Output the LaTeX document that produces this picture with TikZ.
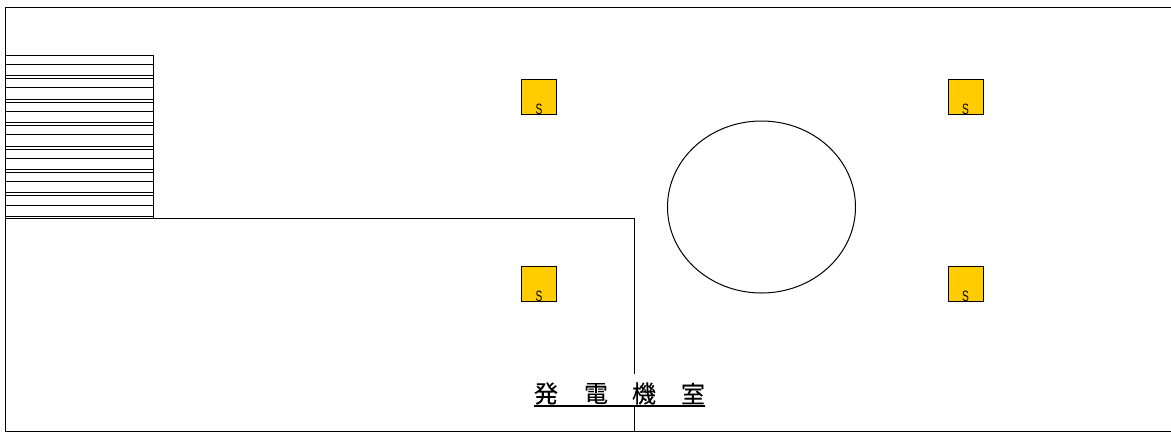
\documentclass[tikz,border=0pt]{standalone}
\usepackage{fontspec}
\newfontfamily\jpfont[FakeBold=0.2]{Noto Sans CJK JP}
\newfontfamily\tagfont[FakeStretch=0.68]{Liberation Sans}
\definecolor{sensoryellow}{RGB}{255,204,0}
\tikzset{
  sensorbox/.style={draw=black,fill=sensoryellow,minimum size=35pt,inner sep=0pt,line width=1pt},
  sensortag/.style={inner sep=0pt,font=\tagfont\fontsize{15pt}{15pt}\selectfont},
  titlechar/.style={inner sep=0pt,font=\jpfont\fontsize{24pt}{24pt}\selectfont},
  wallline/.style={draw=black,line width=1pt}
}
\begin{document}
\begin{tikzpicture}[x=1pt,y=-1pt]
        \useasboundingbox (0,0) rectangle (1171,432);
        % outer room
        \coordinate (TL) at (5.5,7.5);
        \coordinate (TR) at (1171,7.5);
        \coordinate (BL) at (5.5,431);
        \coordinate (BR) at (1171,431);
        \draw[wallline] (TR) -- (TL) -- (BL) -- (BR);
        % stairs
        \coordinate (S) at (5.5,55.5);
        \coordinate (SE) at (153,55.5);
        \coordinate (W) at (5.5,218.8);
        \coordinate (WC) at (153,218.8);
        \coordinate (WE) at (634.5,218.8);
        \coordinate (WB) at (634.5,431);
        \draw[wallline] (S) -- (SE) -- (WC);
        \foreach \y in {64.5,75.5,78.5,87.7,99,102.3,111.3,122.3,125.7,134.7,146,149,158,169.3,172.3,181.7,192.7,195.7,205,216}
            \draw[wallline] (5.5,\y) -- (153,\y);
        \draw[wallline] (W) -- (WE) -- (WB);
        % sensors
        \node[sensorbox] (S1) at (539,96.5) {};
        \node[sensorbox] (S2) at (965.5,96.5) {};
        \node[sensorbox] (S3) at (539,283.5) {};
        \node[sensorbox] (S4) at (965.5,283.5) {};
        \foreach \n in {S1,S2,S3,S4}
            \node[sensortag,anchor=base] (\n t) at (\n.south) {S};
        % pillar
        \draw[wallline] (761.5,207) ellipse (94pt and 86pt);
        % title
        \node[fill=white,inner sep=0pt,minimum width=171pt,minimum height=31pt,anchor=south] (T) at (619.5,405.5) {};
        \node[titlechar] (T1) at (546,393.5) {発};
        \node[titlechar] (T2) at (596,393.5) {電};
        \node[titlechar] (T3) at (644,393.5) {機};
        \node[titlechar] (T4) at (693,393.5) {室};
        \draw[line width=2pt] (T.south west) -- (T.south east);
    \end{tikzpicture}
\end{document}
